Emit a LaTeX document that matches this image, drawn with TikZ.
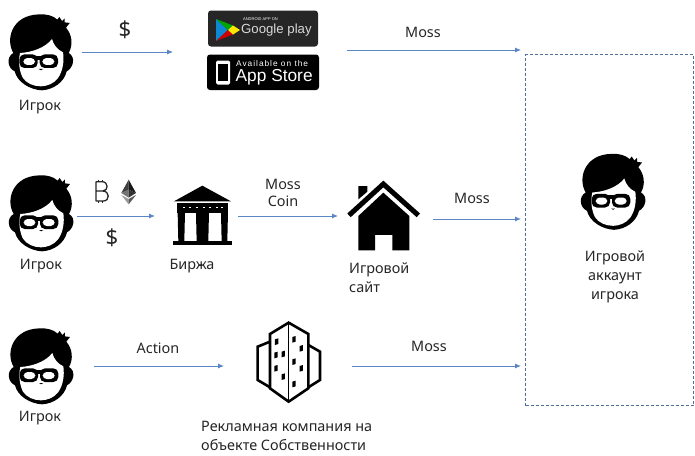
\documentclass[tikz,border=0pt]{standalone}
\usepackage{fontspec}
\setmainfont{Noto Sans}
\usetikzlibrary{arrows.meta}
\definecolor{flow}{HTML}{5B86C6}
\definecolor{boxline}{HTML}{4F7099}
\tikzset{
  x=1pt,y=-1pt,
  lbl/.style={font=\fontsize{14.4}{18}\selectfont,text=black!85,inner sep=0pt},
  lblleft/.style={lbl,align=left,anchor=west},
  flowline/.style={draw=flow,line width=0.9pt,-{Latex[length=6pt,width=5pt]}},
  anchorbox/.style={inner sep=0pt,outer sep=0pt},
  zoomed/.style={x=0.3333pt,y=-0.3333pt},
  avatar/.pic={
    \begin{scope}[zoomed,shift={(-122,-160)}]
    \fill[black] (125,272) .. controls (90,270) and (52,248) .. (44,215)
      .. controls (22,205) and (18,172) .. (40,160)
      .. controls (16,120) and (34,46) .. (118,44)
      .. controls (140,43) and (160,48) .. (172,60)
      -- (178,52) -- (186,64) -- (194,56) -- (194,68) -- (209,70) -- (198,84)
      .. controls (216,105) and (220,135) .. (206,160)
      .. controls (228,172) and (220,205) .. (200,215)
      .. controls (192,248) and (160,270) .. (125,272) -- cycle;
    \fill[white] (60,160) .. controls (95,158) and (135,145) .. (156,118)
      .. controls (160,135) and (172,150) .. (189,158)
      .. controls (193,185) and (188,215) .. (174,235)
      .. controls (162,252) and (140,260) .. (122,260)
      .. controls (100,260) and (78,250) .. (68,234)
      .. controls (58,215) and (54,185) .. (60,160) -- cycle;
    \fill[black,rounded corners=5pt] (58,164) rectangle (113,205);
    \fill[black,rounded corners=5pt] (119,164) rectangle (174,205);
    \fill[black] (105,168) rectangle (128,180);
    \fill[white,rounded corners=4pt] (70,175) rectangle (105,196);
    \fill[white,rounded corners=4pt] (127,175) rectangle (163,196);
    \fill[black] (116,208) .. controls (120,213) and (125,213) .. (129,208) -- cycle;
    \end{scope}
  }
}
\newfontfamily\badgefont{Liberation Sans}
\newfontfamily\spacedfont[LetterSpace=12]{Liberation Sans}
\begin{document}
\begin{tikzpicture}
\useasboundingbox (0,0) rectangle (695,455);
\fill[white] (0,0) rectangle (695,455);

% players and account
\pic at (40.7,53) {avatar};
\pic at (41,214) {avatar};
\pic at (41,367) {avatar};
\pic at (613,192.5) {avatar};
\node[anchorbox,minimum width=82pt,minimum height=70pt] (p1) at (41,52) {};
\node[anchorbox,minimum width=72pt,minimum height=70pt] (p2) at (41,216) {};
\node[anchorbox,minimum width=106pt,minimum height=70pt] (p3) at (41,366) {};

\node[lbl] (t1) at (40,107.5) {Игрок};
\node[lbl] (t2) at (41,266.5) {Игрок};
\node[lbl] (t3) at (40,418.5) {Игрок};

\node[draw=boxline,line width=1.1pt,anchor=north west,minimum width=168pt,minimum height=351pt,inner sep=0pt,dash pattern=on 3pt off 2pt] (acct) at (525,54) {};
\node[lbl,align=center,font=\fontsize{14.4}{19}\selectfont] (acctl) at (615,277) {Игровой\\аккаунт\\игрока};

% stores
\fill[black!85,rounded corners=3pt] (208,10.5) rectangle (318,46.5);
\node[anchorbox,minimum width=110pt,minimum height=36pt] (gp) at (263,28.5) {};
\fill[cyan!70!blue] (216,19) -- (216,41) -- (228,30) -- cycle;
\fill[green!65!black] (216,19) -- (228,30) -- (233,25.5) -- cycle;
\fill[red!80!black] (216,41) -- (228,30) -- (233,34.5) -- cycle;
\fill[yellow!90!orange] (233,25.5) -- (240,30) -- (233,34.5) -- (228,30) -- cycle;
\node[inner sep=0pt,text=white,font=\badgefont\fontsize{4}{4}\selectfont] (gpa) at (260.5,19.5) {ANDROID APP ON};
\node[inner sep=0pt,text=black!15,font=\badgefont\fontsize{13.2}{15}\selectfont,anchor=west] (gpb) at (241,30.5) {Google play};

\fill[black,rounded corners=3pt] (207,54.5) rectangle (319,90);
\node[anchorbox,minimum width=112pt,minimum height=35pt] (as) at (263,72) {};
\fill[white,rounded corners=1.5pt] (216,60.5) rectangle (230,84.5);
\fill[black] (218,64) rectangle (228,80.5);
\node[inner sep=0pt,text=white,font=\spacedfont\fontsize{8.3}{8}\selectfont,anchor=west] (asa) at (236,64) {Available on the};
\node[inner sep=0pt,text=white,font=\badgefont\fontsize{17.3}{18}\selectfont,anchor=west] (asb) at (235.5,77) {App Store};

% row 1
\node[lbl,font=\fontsize{22}{23}\selectfont] (d1) at (125,30) {\$};
\node[lbl] (m1) at (423,32) {Moss};
\coordinate (s1in) at (173,52);
\coordinate (s1out) at (347,50);
\coordinate (a1) at (521,50);
\draw[flowline] (p1.east) -- (s1in);
\draw[flowline] (s1out) -- (a1);

% row 2 coins
\begin{scope}[zoomed,shift={(0pt,-165pt)},line width=1.3pt,black!85]
\draw[line join=round] (288,50) -- (288,108) -- (310,108)
  .. controls (330,108) and (330,78) .. (308,78) -- (288,78)
  (308,78) .. controls (326,78) and (326,50) .. (306,50) -- (288,50);
\draw (296,44) -- (296,50) (308,44) -- (308,50) (296,108) -- (296,114) (308,108) -- (308,114);
\end{scope}
\begin{scope}[zoomed,shift={(0pt,-165pt)}]
\fill[black!75] (386,44) -- (364,84) -- (386,74) -- cycle;
\fill[black!90] (386,44) -- (408,84) -- (386,74) -- cycle;
\fill[black!55] (364,84) -- (386,74) -- (386,98) -- cycle;
\fill[black!80] (408,84) -- (386,74) -- (386,98) -- cycle;
\fill[black!40] (364,90) -- (386,102) -- (386,118) -- cycle;
\fill[black!65] (408,90) -- (386,102) -- (386,118) -- cycle;
\end{scope}
\node[lbl,font=\fontsize{22}{23}\selectfont] (d2) at (112,238) {\$};

% exchange
\node[anchorbox,minimum width=83pt,minimum height=60pt] (ex) at (196.5,216) {};
\begin{scope}[zoomed,shift={(0pt,-165pt)}]
\fill[black] (607,62) -- (693,109) -- (522,109) -- cycle;
\fill[black] (530,114) rectangle (685,143);
\foreach \wx in {548,568,588,608,628,648,664} \fill[white] (\wx,125) rectangle +(6,4);
\fill[black] (533,143) -- (555,143) -- (553,228) -- (535,228) -- cycle;
\fill[black] (588,143) -- (627,143) -- (625,228) -- (590,228) -- cycle;
\fill[black] (663,143) -- (684,143) -- (682,228) -- (665,228) -- cycle;
\fill[black] (518,228) rectangle (697,241);
\end{scope}
\node[lbl] (ext) at (192,266) {Биржа};
\node[lbl,align=center,font=\fontsize{14.4}{17}\selectfont] (mc) at (283,193) {Moss\\Coin};

% site
\node[anchorbox,minimum width=92pt,minimum height=60pt] (site) at (384,216) {};
\begin{scope}[zoomed,shift={(330pt,-170pt)}]
\fill[black] (85,48) -- (112,48) -- (112,65) -- (85,88) -- cycle;
\fill[black] (160,68) -- (238,138) -- (238,241) -- (187,241) -- (187,195) -- (135,195) -- (135,241) -- (85,241) -- (85,138) -- cycle;
\draw[black,line width=5pt,line cap=butt,line join=miter] (57,136) -- (160,42) -- (265,136);
\end{scope}
\node[lblleft,align=left,font=\fontsize{14.4}{19}\selectfont] (sitel) at (349,277.5) {Игровой\\сайт};
\node[lbl] (m2) at (472,198) {Moss};
\coordinate (s2out) at (433,219);
\coordinate (a2) at (521,219);
\draw[flowline] (p2.east) -- (ex.west);
\draw[flowline] (ex.east) -- (site.west);
\draw[flowline] (s2out) -- (a2);

% building
\node[anchorbox,minimum width=128pt,minimum height=60pt] (bld) at (288,366) {};
\begin{scope}[zoomed,shift={(190pt,-310pt)},line width=2.6pt,line join=miter]
\draw[black] (240,95) -- (203,110) -- (203,210) -- (240,232);
\draw[black] (355,105) -- (390,125) -- (390,210) -- (355,232);
\draw[black] (296,38) -- (355,72) -- (355,235) -- (296,275) -- (240,235) -- (240,72) -- cycle;
\draw[black,line width=1pt] (296,38) -- (296,275);
\foreach \wx/\wy in {260/95, 258/135, 280/132, 258/175, 280/200, 312/88, 334/115, 312/155, 334/175, 312/222}
  \fill[black] (\wx-5,\wy-7) -- (\wx+5,\wy-10) -- (\wx+5,\wy+7) -- (\wx-5,\wy+10) -- cycle;
\end{scope}
\node[lblleft,font=\fontsize{14.4}{19}\selectfont] (bldl) at (201,435.5) {Рекламная компания на\\объекте Собственности};
\node[lbl] (act) at (158,348) {Action};
\node[lbl] (m3) at (429,346) {Moss};
\coordinate (a3) at (521,366);
\draw[flowline] (p3.east) -- (bld.west);
\draw[flowline] (bld.east) -- (a3);
\end{tikzpicture}
\end{document}
